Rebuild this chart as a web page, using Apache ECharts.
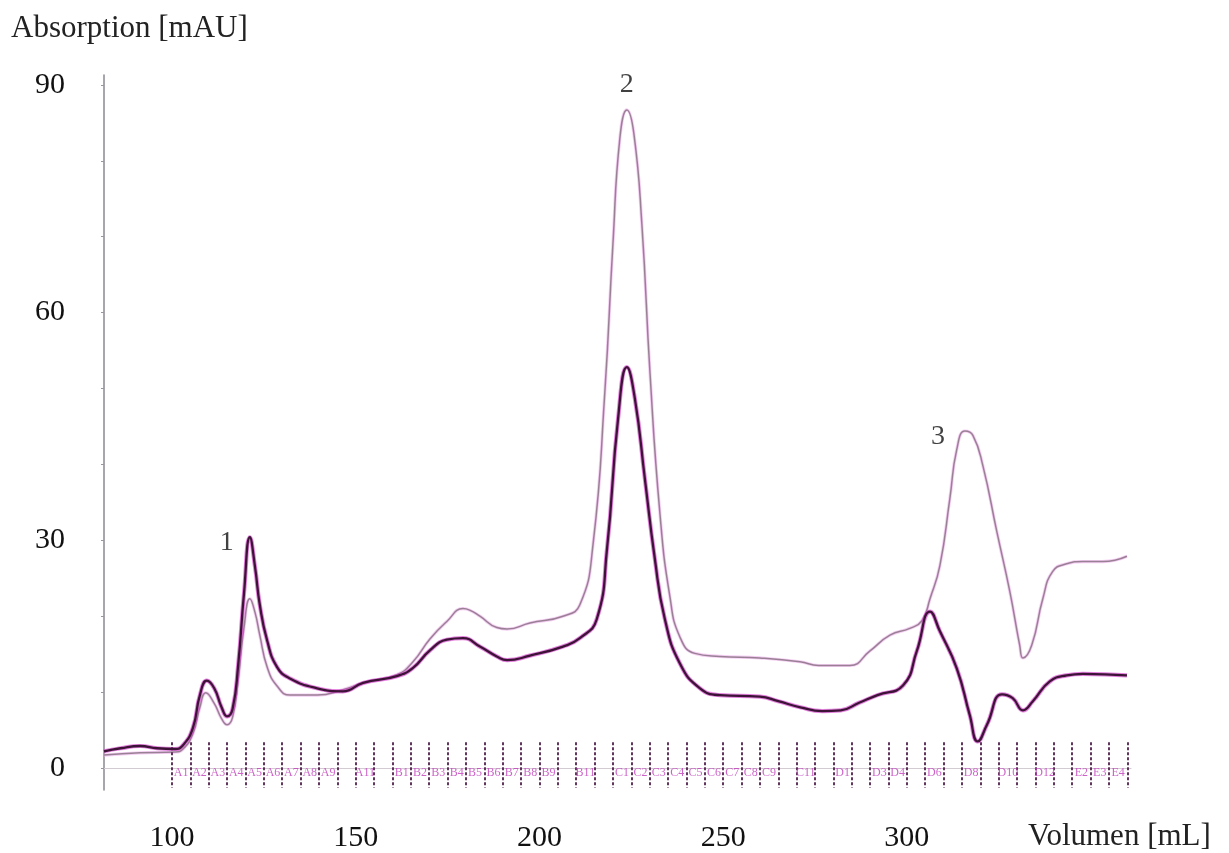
<!DOCTYPE html>
<html>
<head>
<meta charset="utf-8">
<script src="https://cdn.jsdelivr.net/npm/echarts@6/dist/echarts.min.js"></script>
<style>
  html, body { margin: 0; padding: 0; background: #ffffff; }
  #chart { width: 1229px; height: 853px; }
</style>
</head>
<body>
<div id="chart"></div>
<script>
// Axis ranges and tick labels
const volumeMin = 81.5;
const volumeMax = 361;
const absMin = -2.9;
const absMax = 91.3;
const xTickValues = [100, 150, 200, 250, 300];
const yTickValues = [0, 30, 60, 90];
const yMinorTicks = [0, 10, 20, 30, 40, 50, 60, 70, 80, 90];

// Chromatogram traces: [volume mL, absorption mAU]
const traceDark = [
  [81.5, 2.2], [86, 2.6], [91.3, 2.9], [96, 2.6], [100.8, 2.5], [103, 3.0],
  [105.7, 5.3], [107.6, 9.6], [109.5, 11.5], [111.5, 10.5], [113.5, 8.0],
  [115, 6.8], [116.5, 7.8], [118, 13.5], [119.6, 23.0], [121.2, 30.4],
  [122.6, 26.5], [123.9, 21.5], [125.9, 16.8], [128.6, 13.3], [132.1, 11.8],
  [139.5, 10.5], [146.5, 10.1], [152, 11.2], [161.2, 12.1], [165.6, 13.2],
  [170.2, 15.5], [174.8, 16.9], [179.2, 17.1], [183.8, 16.0], [188.4, 14.7],
  [191.2, 14.2], [197.4, 14.8], [206.4, 16.0], [211, 17.1], [215.6, 19.6],
  [218.4, 28.9], [221.4, 46.0], [223.8, 52.8], [226, 48.6], [228.7, 38.1],
  [231.4, 27.6], [234.1, 19.7], [238.2, 13.8], [243.7, 10.5], [249.1, 9.6],
  [260, 9.4], [265, 8.8], [271, 8.0], [277, 7.5], [282, 7.6], [287, 8.6],
  [292, 9.6], [299, 10.9], [302.7, 15.4], [306.3, 20.6], [309, 18.0],
  [313.6, 13.1], [317.1, 7.0], [319.3, 3.5], [321.8, 5.7], [325.9, 9.7],
  [328.8, 9.2], [331.6, 7.6], [334.3, 8.8], [338.9, 11.4], [343.5, 12.2],
  [347.9, 12.4], [359.9, 12.2]
];

const traceLight = [
  [81.5, 1.7], [91.3, 2.0], [100.8, 2.1], [103, 2.5], [105.7, 4.5],
  [107.6, 8.0], [109.2, 9.9], [111.5, 8.5], [113.5, 6.5], [115, 5.7],
  [116.5, 6.7], [118, 11.5], [119.6, 18.5], [121.2, 22.3], [122.6, 20.5],
  [123.9, 17.5], [125.9, 13.3], [128.6, 10.8], [132.1, 9.6], [139.5, 9.6],
  [146.5, 10.3], [152, 11.2], [161.2, 12.3], [165.6, 14.0], [170.2, 17.0],
  [174.8, 19.3], [179.2, 21.0], [181, 20.8], [183.8, 20.0], [188.4, 18.5],
  [191.2, 18.3], [197.4, 19.1], [206.4, 20.0], [211, 21.5], [214.6, 29.5],
  [217.8, 49.5], [220, 69.0], [221.9, 83.0], [223.8, 86.7], [225.7, 83.6],
  [227.9, 71.5], [230.1, 52.0], [232.8, 33.5], [235.5, 22.6], [238.2, 17.3],
  [242.3, 15.1], [249.1, 14.7], [260, 14.5], [270.9, 14.0], [276, 13.5],
  [284.5, 13.5], [289.9, 15.4], [295.4, 17.5], [300.8, 18.4], [304.1, 19.4],
  [306.3, 22.3], [309, 26.7], [311.7, 35.5], [313.6, 42.0], [315.8, 44.4],
  [318, 43.8], [320.7, 39.8], [324.5, 31.1], [328, 23.3], [330.7, 16.2],
  [331.6, 14.5], [334, 16.2], [337, 22.3], [339.7, 25.9], [343.5, 26.9],
  [347.9, 27.2], [353.3, 27.2], [359.9, 27.9]
];

// Fraction collector marks (mL) and tube names
const fractionEdges = [
  100, 105, 110, 115, 120, 125, 130, 135, 140, 145, 150, 155, 160, 165, 170,
  175, 180, 185, 190, 195, 200, 205, 210, 215, 220, 225, 230, 235, 240, 245,
  250, 255, 260, 265, 270, 275, 280, 285, 290, 295, 300, 305, 310, 315, 320,
  325, 330, 335, 340, 345, 350, 355, 360
];
const fractionNames = [
  'A1', 'A2', 'A3', 'A4', 'A5', 'A6', 'A7', 'A8', 'A9', '', 'A11', '',
  'B1', 'B2', 'B3', 'B4', 'B5', 'B6', 'B7', 'B8', 'B9', '', 'B11', '',
  'C1', 'C2', 'C3', 'C4', 'C5', 'C6', 'C7', 'C8', 'C9', '', 'C11', '',
  'D1', '', 'D3', 'D4', '', 'D6', '', 'D8', '', 'D10', '', 'D12', '',
  'E2', 'E3', 'E4'
];
const fractionMarkTop = 3.4;
const fractionMarkBottom = -2.6;
const fractionLabelLevel = -0.6;

// Peak numbering
const peakNames = ['1', '2', '3'];
const peakVolumes = [121.2, 223.8, 315.8];
const peakHeights = [30.4, 86.7, 44.4];
const peakLabelOffsets = [[-23, 5], [0, -25], [-27, 6]];

const serif = '"Liberation Serif", "DejaVu Serif", serif';

const fractionLines = fractionEdges.map(v => [
  { coord: [v, fractionMarkTop] },
  { coord: [v, fractionMarkBottom] }
]);
const fractionLabelData = fractionNames.map((name, i) => ({
  name: name,
  value: [(fractionEdges[i] + fractionEdges[i + 1]) / 2, fractionLabelLevel]
}));
const peakData = peakNames.map((name, i) => ({
  name: name,
  value: [peakVolumes[i], peakHeights[i]],
  label: { offset: peakLabelOffsets[i] }
}));

const curveSmooth = 0.5;

const chart = echarts.init(document.getElementById('chart'), null, { renderer: 'canvas' });

chart.setOption({
  animation: false,
  backgroundColor: '#ffffff',
  grid: { left: 104, right: 98, top: 75, bottom: 61, containLabel: false },
  xAxis: {
    type: 'value',
    min: volumeMin,
    max: volumeMax,
    splitLine: { show: false },
    axisLine: { show: true, lineStyle: { color: '#d2cbd1', width: 1.2 } },
    axisTick: { show: false },
    axisLabel: {
      customValues: xTickValues,
      margin: 33,
      fontFamily: serif,
      fontSize: 30,
      color: '#111111'
    }
  },
  yAxis: {
    type: 'value',
    min: absMin,
    max: absMax,
    splitLine: { show: false },
    axisLine: { show: true, lineStyle: { color: '#8c8790', width: 1.5 } },
    axisTick: {
      show: true,
      customValues: yMinorTicks,
      length: 3,
      lineStyle: { color: '#9a95a0', width: 1 }
    },
    axisLabel: {
      customValues: yTickValues,
      margin: 39,
      fontFamily: serif,
      fontSize: 30,
      color: '#111111'
    }
  },
  graphic: [
    {
      type: 'text',
      left: 11,
      top: 13,
      style: { text: 'Absorption [mAU]', font: '31px ' + serif, fill: '#222222' }
    },
    {
      type: 'text',
      left: 1028,
      top: 821,
      style: { text: 'Volumen [mL]', font: '31px ' + serif, fill: '#222222' }
    }
  ],
  series: [
    {
      name: 'Spur B Saum',
      type: 'line',
      data: traceLight,
      showSymbol: false,
      smooth: curveSmooth,
      silent: true,
      lineStyle: { color: '#efaeec', width: 3.2, opacity: 0.6 },
      z: 2
    },
    {
      name: 'Spur B',
      type: 'line',
      data: traceLight,
      showSymbol: false,
      smooth: curveSmooth,
      lineStyle: { color: '#9a8095', width: 1.5 },
      z: 3
    },
    {
      name: 'Spur A Saum',
      type: 'line',
      data: traceDark,
      showSymbol: false,
      smooth: curveSmooth,
      silent: true,
      lineStyle: { color: '#d53dcc', width: 4.2, opacity: 0.65 },
      z: 4
    },
    {
      name: 'Spur A',
      type: 'line',
      data: traceDark,
      showSymbol: false,
      smooth: curveSmooth,
      lineStyle: { color: '#3d1437', width: 2.3 },
      z: 5
    },
    {
      name: 'Fraktionen',
      type: 'scatter',
      data: fractionLabelData,
      symbolSize: 0,
      silent: true,
      label: {
        show: true,
        position: 'inside',
        formatter: p => p.name,
        fontFamily: serif,
        fontSize: 12,
        color: '#c03cbc'
      },
      markLine: {
        silent: true,
        symbol: ['none', 'none'],
        label: { show: false },
        lineStyle: { color: '#52204d', width: 1.8, type: [3, 2] },
        data: fractionLines
      },
      z: 6
    },
    {
      name: 'Peaks',
      type: 'scatter',
      data: peakData,
      symbolSize: 0,
      silent: true,
      label: {
        show: true,
        position: 'inside',
        formatter: p => p.name,
        fontFamily: serif,
        fontSize: 28,
        color: '#111111'
      },
      z: 7
    }
  ]
});
</script>
</body>
</html>
